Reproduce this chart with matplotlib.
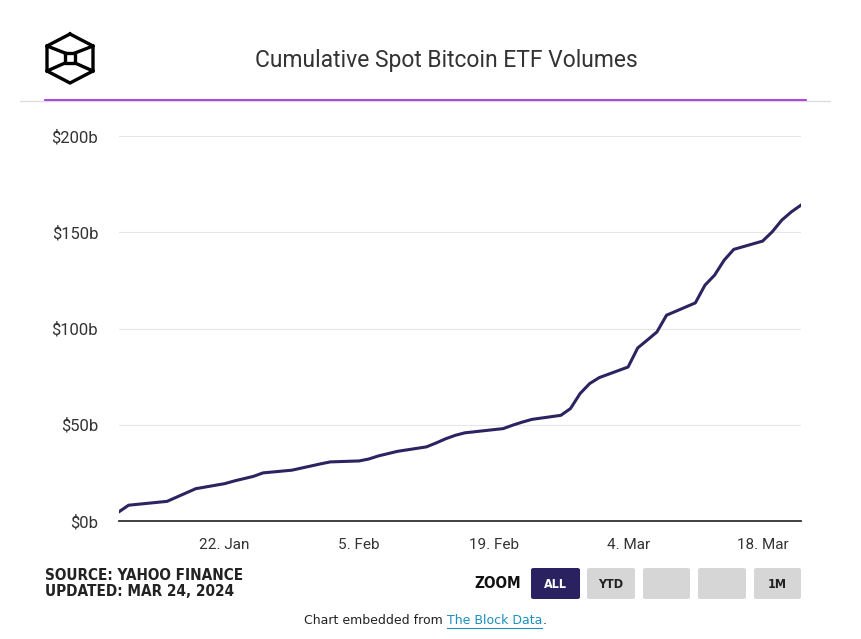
import datetime as dt
import matplotlib
matplotlib.use("Agg")
import matplotlib.pyplot as plt
import matplotlib.dates as mdates
from matplotlib.patches import FancyBboxPatch
from matplotlib.ticker import FuncFormatter

# trading days and cumulative volume ($b)
dates = [
    "2024-01-11", "2024-01-12", "2024-01-16", "2024-01-17", "2024-01-18", "2024-01-19",
    "2024-01-22", "2024-01-23", "2024-01-24", "2024-01-25", "2024-01-26",
    "2024-01-29", "2024-01-30", "2024-01-31", "2024-02-01", "2024-02-02",
    "2024-02-05", "2024-02-06", "2024-02-07", "2024-02-08", "2024-02-09",
    "2024-02-12", "2024-02-13", "2024-02-14", "2024-02-15", "2024-02-16",
    "2024-02-20", "2024-02-21", "2024-02-22", "2024-02-23",
    "2024-02-26", "2024-02-27", "2024-02-28", "2024-02-29", "2024-03-01",
    "2024-03-04", "2024-03-05", "2024-03-06", "2024-03-07", "2024-03-08",
    "2024-03-11", "2024-03-12", "2024-03-13", "2024-03-14", "2024-03-15",
    "2024-03-18", "2024-03-19", "2024-03-20", "2024-03-21", "2024-03-22",
]
volumes = [
    4.8, 8.2, 10.2, 12.4, 14.6, 16.8,
    19.4, 20.8, 22.0, 23.2, 25.0,
    26.4, 27.5, 28.6, 29.7, 30.7,
    31.2, 32.2, 33.8, 35.0, 36.2,
    38.5, 40.5, 42.7, 44.5, 45.8,
    48.0, 49.8, 51.4, 52.8,
    54.9, 58.4, 66.2, 71.4, 74.5,
    80.0, 89.9, 94.0, 98.2, 106.9,
    113.3, 122.5, 127.7, 135.5, 141.1,
    145.4, 150.2, 156.3, 160.6, 164.1,
]
tick_dates = ["2024-01-22", "2024-02-05", "2024-02-19", "2024-03-04", "2024-03-18"]
y_ticks = [0, 50, 100, 150, 200]

x = [dt.datetime.strptime(d, "%Y-%m-%d") for d in dates]
xt = [dt.datetime.strptime(d, "%Y-%m-%d") for d in tick_dates]

plt.rcParams["font.family"] = ["Roboto", "DejaVu Sans"]

W, H = 862, 639
fig = plt.figure(figsize=(W / 100, H / 100), dpi=100)
ax = fig.add_axes([119 / W, 1 - 521 / H, (801 - 119) / W, (521 - 136) / H])

ax.plot(x, volumes, color="#2b2461", lw=2.2, solid_joinstyle="round")
ax.set_xlim(x[0], x[-1])
ax.set_ylim(0, 200)
ax.set_yticks(y_ticks)
ax.yaxis.set_major_formatter(FuncFormatter(lambda v, p: f"${v:.0f}b"))
ax.set_xticks(xt)
ax.xaxis.set_major_formatter(FuncFormatter(
    lambda v, p: f"{mdates.num2date(v).day}. {mdates.num2date(v).strftime('%b')}"))
ax.grid(axis="y", color="#e6e6e6", lw=0.8)
ax.set_axisbelow(True)
for s in ["top", "right", "left"]:
    ax.spines[s].set_visible(False)
ax.spines["bottom"].set_color("#333333")
ax.spines["bottom"].set_linewidth(1.3)
ax.tick_params(axis="x", length=0, pad=12, labelsize=11, labelcolor="#333333")
ax.tick_params(axis="y", length=0, pad=15, labelsize=12, labelcolor="#333333")

# header
fig.text(446 / W, 1 - 61 / H, "Cumulative Spot Bitcoin ETF Volumes", ha="center", va="center",
         fontsize=16.5, color="#333333")
fig.add_artist(plt.Line2D([20 / W, 830 / W], [1 - 101 / H, 1 - 101 / H], color="#dddddd", lw=1))
fig.add_artist(plt.Line2D([45 / W, 806 / W], [1 - 100 / H, 1 - 100 / H], color="#a020e0", lw=1.2))

# logo
def fp(px, py):
    return px / W, 1 - py / H

hexa = [(70, 34), (93, 46), (93, 71), (70, 83), (47, 71), (47, 46), (70, 34)]
hx, hy = zip(*[fp(*p) for p in hexa])
fig.add_artist(plt.Line2D(hx, hy, color="black", lw=2.4, solid_joinstyle="miter"))
sq = [(65, 53), (75, 53), (75, 63), (65, 63), (65, 53)]
sx, sy = zip(*[fp(*p) for p in sq])
fig.add_artist(plt.Line2D(sx, sy, color="black", lw=2.4))
for a, b in [((65, 53), (47, 46)), ((75, 53), (93, 46)), ((65, 63), (47, 71)), ((75, 63), (93, 71))]:
    (x1, y1), (x2, y2) = fp(*a), fp(*b)
    fig.add_artist(plt.Line2D([x1, x2], [y1, y2], color="black", lw=2.4))

# footer
narrow = ["Liberation Sans Narrow", "DejaVu Sans"]
cond = dict(family=narrow, fontstretch="condensed")
fig.text(45 / W, 1 - 576 / H, "SOURCE: YAHOO FINANCE", ha="left", va="center",
         fontsize=11, fontweight="bold", color="#222222", **cond)
fig.text(45 / W, 1 - 592 / H, "UPDATED: MAR 24, 2024", ha="left", va="center",
         fontsize=11, fontweight="bold", color="#222222", **cond)
fig.text(521 / W, 1 - 583 / H, "ZOOM", ha="right", va="center",
         fontsize=11, fontweight="bold", color="#111111", **cond)

buttons = [(531, 580, "ALL"), (587, 635, "YTD"), (643, 690, ""), (698, 746, ""), (754, 801, "1M")]
for x0, x1, lab in buttons:
    dark = lab == "ALL"
    fig.add_artist(FancyBboxPatch((x0 / W, 1 - 599 / H), (x1 - x0) / W, 31 / H,
                                  boxstyle="round,pad=0,rounding_size=0.003",
                                  transform=fig.transFigure,
                                  facecolor="#2a2160" if dark else "#d6d6d6", edgecolor="none"))
    if lab:
        fig.text((x0 + x1) / 2 / W, 1 - 584 / H, lab, ha="center", va="center",
                 fontsize=9, fontweight="bold", color="white" if dark else "#222222", **cond)

fig.text(447 / W, 1 - 620 / H, "Chart embedded from ", ha="right", va="center",
         fontsize=9, color="#222222", family=narrow)
link = fig.text(447 / W, 1 - 620 / H, "The Block Data", ha="left", va="center",
                fontsize=9, color="#1a8fc0", family=narrow)
fig.canvas.draw()
bb = link.get_window_extent()
fig.add_artist(plt.Line2D([bb.x0 / W, bb.x1 / W], [(bb.y0 - 1) / H, (bb.y0 - 1) / H],
                          color="#1a8fc0", lw=0.8))
fig.text(bb.x1 / W, 1 - 620 / H, ".", ha="left", va="center", fontsize=9,
         color="#222222", family=narrow)

fig.savefig("out.png", dpi=100)
